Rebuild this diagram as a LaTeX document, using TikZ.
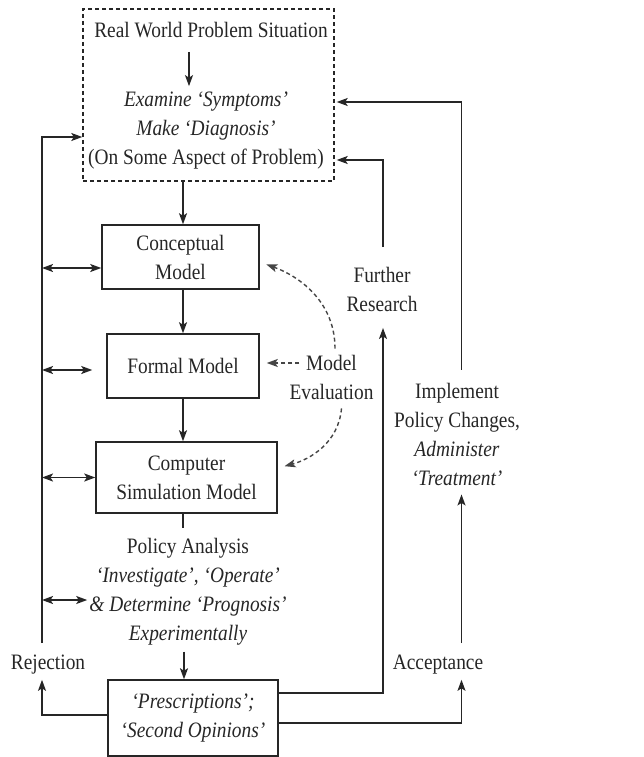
\documentclass[tikz,border=0pt]{standalone}
\usepackage{fontspec}
\setmainfont{Liberation Serif}[FakeStretch=0.88]
\usetikzlibrary{arrows.meta}
\definecolor{ink}{HTML}{262626}
\definecolor{dashink}{HTML}{454545}
\begin{document}
\begin{tikzpicture}[x=1pt,y=-1pt,
  every node/.style={text=ink, font=\fontsize{22}{29}\selectfont},
  txt/.style={inner sep=2pt, align=center},
  modelbox/.style={draw=ink, line width=1.5pt, inner sep=0pt, align=center},
  probbox/.style={draw=ink, line width=1.4pt, dash pattern=on 4pt off 3pt, inner sep=0pt},
  arr/.style={draw=ink, line width=1.5pt, -{Stealth[length=11pt,width=8pt,inset=2.5pt]}},
  link/.style={draw=ink, line width=1.5pt},
  dbl/.style={draw=ink, line width=1.5pt, {Stealth[length=11pt,width=8pt,inset=2.5pt]}-{Stealth[length=11pt,width=8pt,inset=2.5pt]}},
  evalarr/.style={draw=dashink, line width=1.4pt, dash pattern=on 4pt off 3pt, -{Stealth[length=11pt,width=8pt,inset=2.5pt]}},
]
\useasboundingbox (0,0) rectangle (643,757);

% problem situation (dashed frame) and its texts
\node[probbox, minimum width=251pt, minimum height=172pt] (rw) at (208.5,95) {};
\node[txt] (title) at (211,30) {Real World Problem Situation};
\node[txt] (diag) at (206,131) {\textit{Examine ‘Symptoms’}\\ \textit{Make ‘Diagnosis’}\\ (On Some Aspect of Problem)};

% model boxes
\node[modelbox, minimum width=157pt, minimum height=64pt] (cm) at (180.5,257) {Conceptual\\Model};
\node[modelbox, minimum width=152pt, minimum height=64pt] (fm) at (183,366) {Formal Model};
\node[modelbox, minimum width=181pt, minimum height=71pt] (cs) at (186.5,477.5) {Computer\\Simulation Model};
\node[modelbox, minimum width=170pt, minimum height=76pt] (pr) at (193,718) {\textit{‘Prescriptions’;}\\ \textit{‘Second Opinions’}};

% free labels
\node[txt] (pa) at (188,592) {Policy Analysis\\ \textit{‘Investigate’, ‘Operate’}\\ \textit{\& Determine ‘Prognosis’}\\ \textit{Experimentally}};
\node[txt] (rej) at (48,665) {Rejection};
\node[txt] (acc) at (438,665) {Acceptance};
\node[txt] (im) at (457,434) {Implement\\Policy Changes,\\ \textit{Administer}\\ \textit{‘Treatment’}};
\node[txt] (fr) at (382,289.5) {Further\\Research};
\node[txt] (ev) at (331.5,377) {Model\\Evaluation};

% vertical routing lines
\coordinate (tx) at (189,0);
\coordinate (ax) at (183,0);
\coordinate (px) at (184,0);
\coordinate (lx) at (42,0);
\coordinate (fx) at (383,0);
\coordinate (ix) at (461.5,0);

% main chain
\draw[arr, shorten <=12pt, shorten >=4pt] (title.south -| tx) -- (diag.north -| tx);
\draw[arr] (rw.south -| ax) -- (cm.north -| ax);
\draw[arr] (cm.south -| ax) -- (fm.north -| ax);
\draw[arr] (fm.south -| ax) -- (cs.north -| ax);
\draw[link, shorten >=8pt] (cs.south -| ax) -- (pa.north -| ax);
\draw[arr, shorten <=4pt] (pa.south -| px) -- (pr.north -| px);

% rejection loop
\draw[arr, shorten >=3pt] ([yshift=3pt]pr.west) -| (rej.south -| lx);
\draw[arr, shorten <=10pt] (rej.north -| lx) |- ([yshift=-42pt]rw.west);

% links from the left bus to each stage
\draw[dbl] ([yshift=-11pt]cm.west -| lx) -- ([yshift=-11pt]cm.west);
\draw[dbl, shorten >=14pt] ([yshift=-4pt]fm.west -| lx) -- ([yshift=-4pt]fm.west);
\draw[dbl] (cs.west -| lx) -- (cs.west);
\draw[dbl] ([yshift=-8pt]pa.west -| lx) -- ([yshift=-8pt]pa.west);

% acceptance loop
\draw[arr, shorten >=3pt] ([yshift=-5pt]pr.east) -| (acc.south -| ix);
\draw[arr, shorten <=10pt, shorten >=7pt] (acc.north -| ix) -- (im.south -| ix);
\draw[arr, shorten <=11pt, shorten >=2pt] (im.north -| ix) |- ([yshift=-7pt]rw.east);

% further research loop
\draw[arr, shorten >=14pt] ([yshift=25pt]pr.east) -| (fr.south -| fx);
\draw[arr, shorten <=18pt, shorten >=2pt] (fr.north -| fx) |- ([yshift=-65pt]rw.east);

% model evaluation
\draw[evalarr, shorten >=7pt] ([xshift=12pt,yshift=14pt]ev.west) -- ([yshift=14pt]ev.west -| fm.east);
\draw[evalarr, shorten >=7pt] ([xshift=3.5pt,yshift=4pt]ev.north) to[out=90,in=-20] ([yshift=-5pt]cm.east);
\draw[evalarr, shorten >=7pt] ([xshift=10pt,yshift=-7pt]ev.south) to[out=-95,in=15] ([yshift=9.5pt]cs.east);
\end{tikzpicture}
\end{document}
